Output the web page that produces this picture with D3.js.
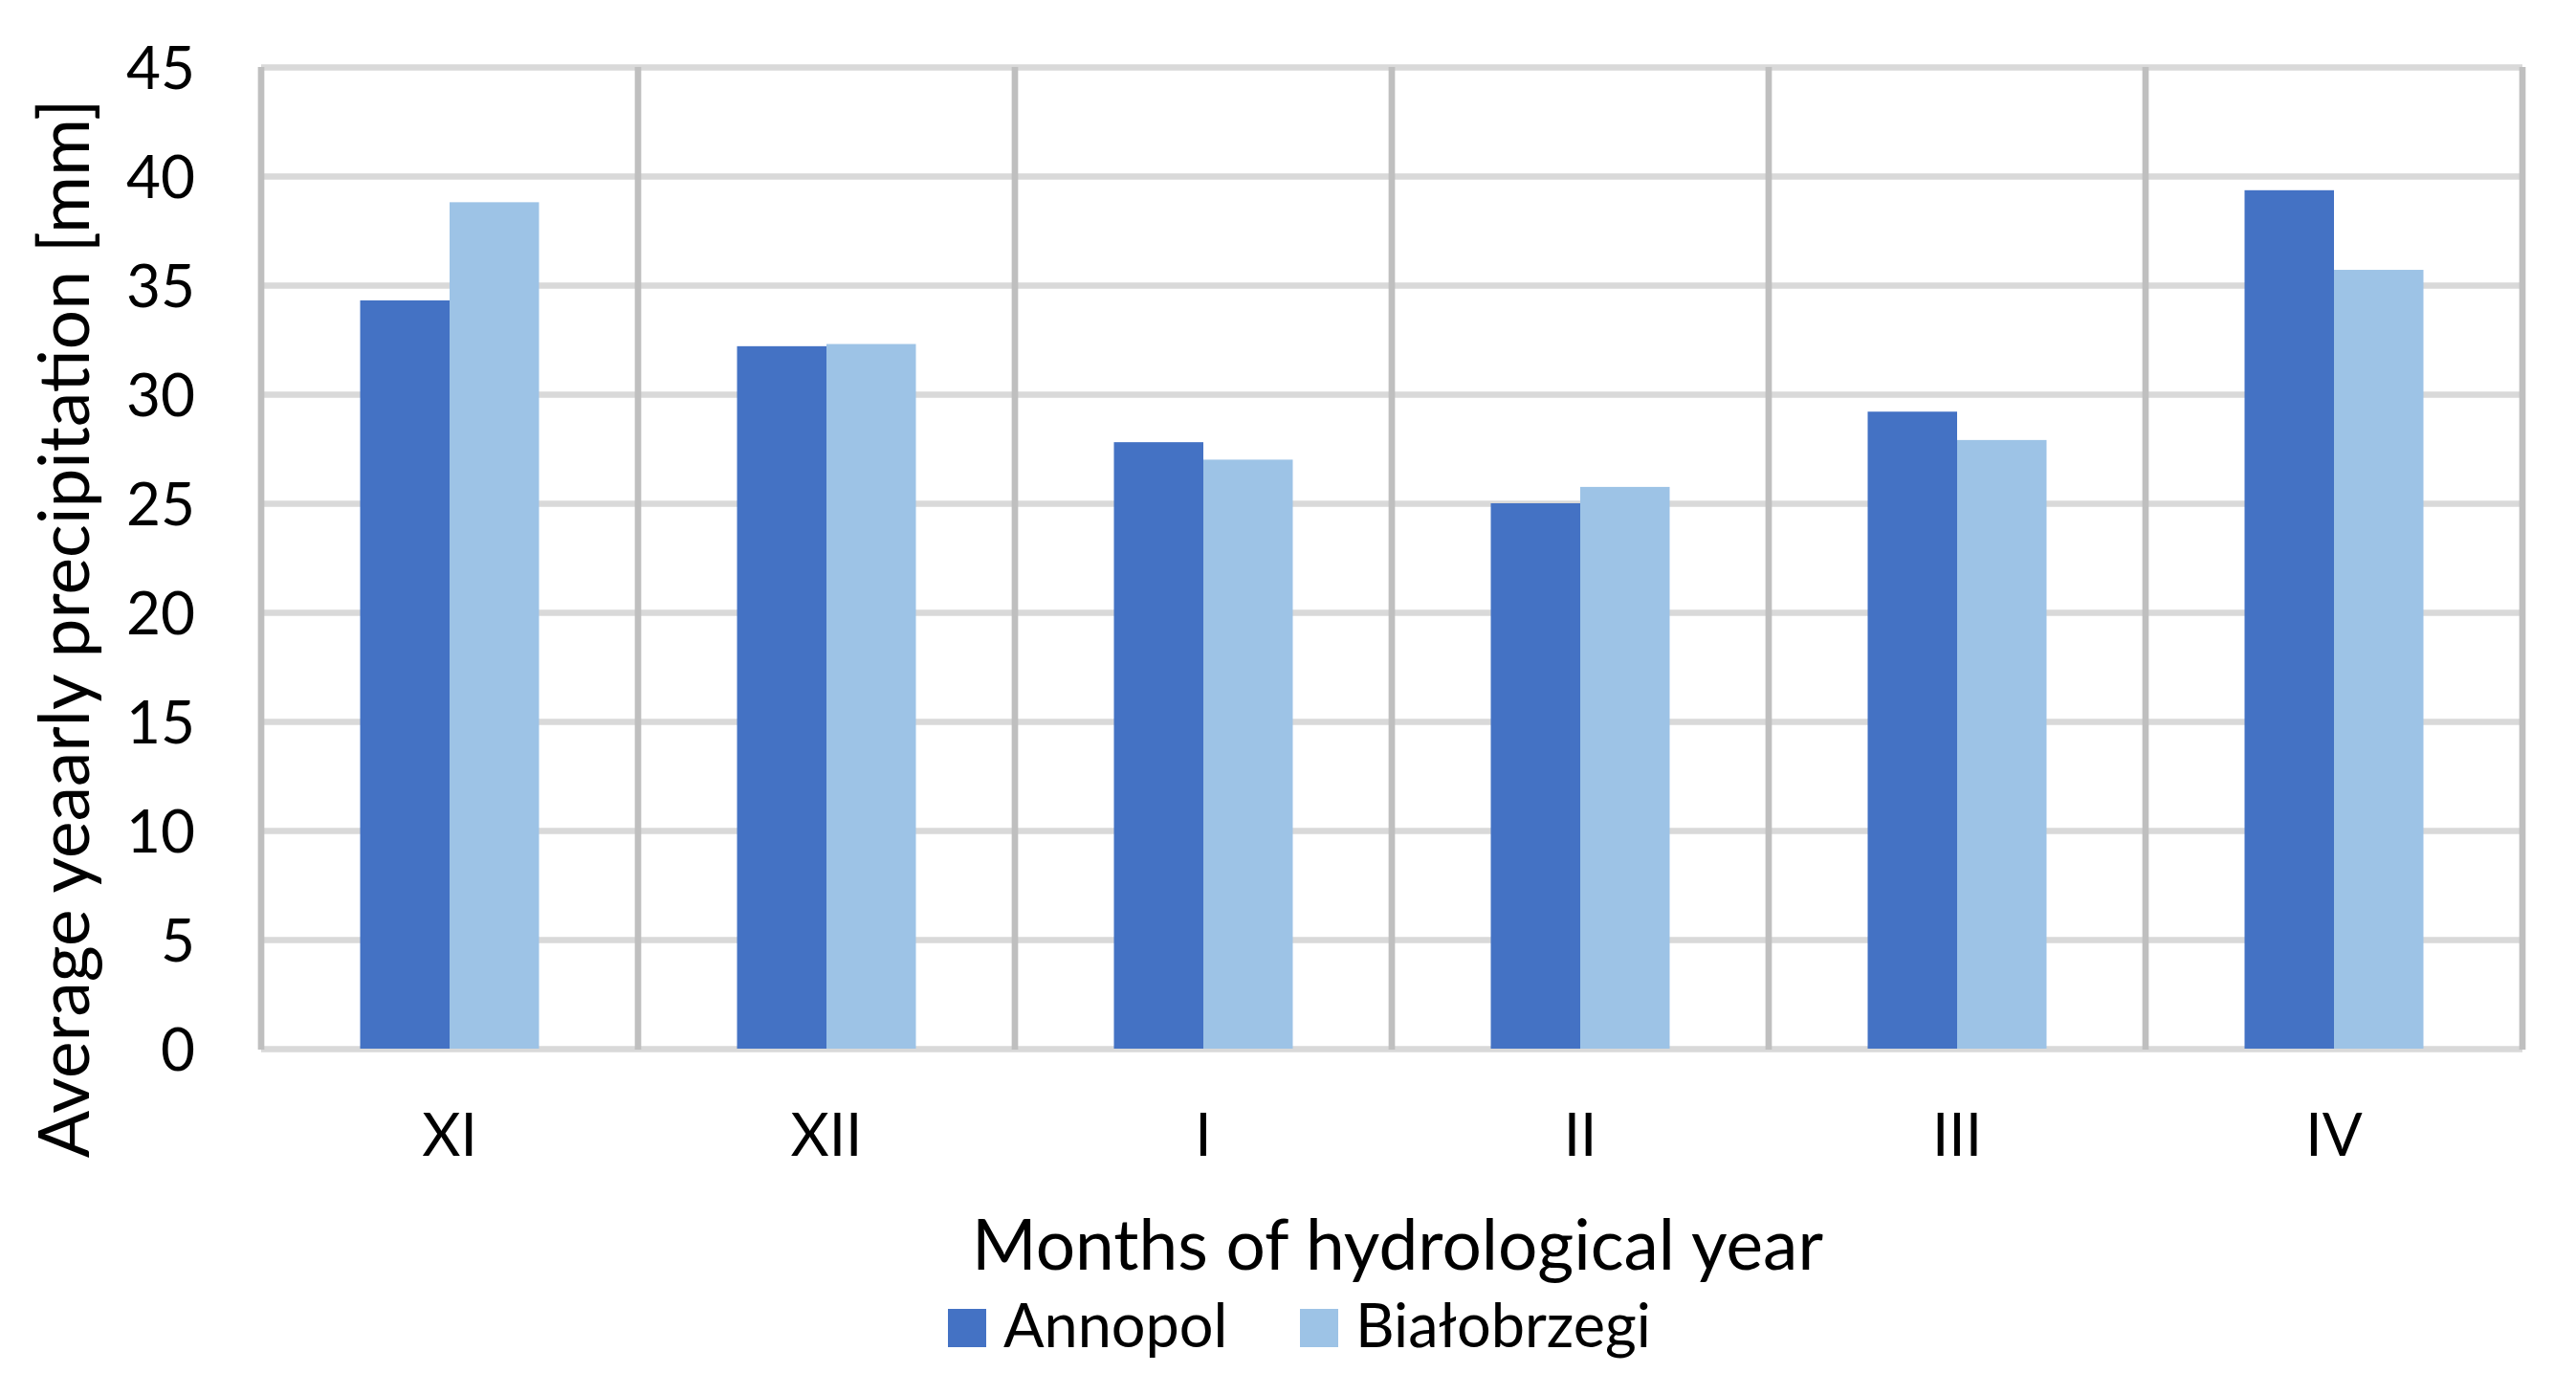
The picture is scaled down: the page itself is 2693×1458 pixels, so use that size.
<!DOCTYPE html>
<html>
<head>
<meta charset="UTF-8">
<title>precipitation_bar_chart</title>
<style type="text/css">
	body { margin: 0; background: #fff; }
	text { font-family: Lato, "Open Sans", sans-serif; fill: #000; }
	.axis path { display: none; }
	.y.axis line { stroke: #d9d9d9; stroke-width: 6.7; }
	.axis text { font-size: 62px; }
	.title { font-size: 73px; }
	.legend text { font-size: 63px; }
</style>
<script type="text/javascript" src="https://d3js.org/d3.v7.min.js"></script>
</head>
<body>
<div id="div_main"></div>
<script type="text/javascript">

	// data
	var months = ["XI", "XII", "I", "II", "III", "IV"];
	var series = ["Annopol", "Białobrzegi"];
	var annopol = [34.3, 32.2, 27.8, 25.0, 29.2, 39.35];
	var bialobrzegi = [38.8, 32.3, 27.0, 25.75, 27.9, 35.7];
	var yTicks = [0, 5, 10, 15, 20, 25, 30, 35, 40, 45];
	var colors = ["#4472c4", "#9dc3e6"];

	var svg_w = 2693, svg_h = 1458;
	var plot_l = 273, plot_r = 2637, plot_t = 70, plot_b = 1096;

	var dataset = months.map(function (m, i) {
		return { name: m, values: [annopol[i], bialobrzegi[i]] };
	});

	var svg = d3.select("#div_main")
				.append("svg")
					.attr("width", svg_w)
					.attr("height", svg_h);

	// scales
	var scaleX = d3.scaleBand()
					.domain(months)
					.range([plot_l, plot_r])
					.padding(0);

	var scaleInner = d3.scaleBand()
					.domain(series)
					.range([0, scaleX.bandwidth()])
					.paddingInner(0)
					.paddingOuter(1.107);

	var scaleY = d3.scaleLinear()
					.domain([0, 45])
					.range([plot_b, plot_t]);

	// horizontal gridlines + y labels
	var axisY = d3.axisLeft(scaleY)
					.tickValues(yTicks)
					.tickSize(-(plot_r - plot_l))
					.tickPadding(69);

	svg.append("g")
			.attr("class", "y axis")
			.attr("transform", "translate(" + plot_l + ",0)")
			.call(axisY)
			.call(function (g) { g.selectAll("text").attr("dy", "0.36em"); });

	// vertical dividers between months
	var edges = months.map(function (m) { return scaleX(m); }).concat([plot_r]);
	svg.append("g")
			.selectAll("line")
			.data(edges)
			.enter()
			.append("line")
				.attr("x1", function (d) { return d; })
				.attr("x2", function (d) { return d; })
				.attr("y1", scaleY(45))
				.attr("y2", scaleY(0) + 1)
				.attr("stroke", "#bfbfbf")
				.attr("stroke-width", 6.7);

	// bars
	var groups = svg.selectAll("g.month")
			.data(dataset)
			.enter()
			.append("g")
				.attr("class", "month")
				.attr("transform", function (d) { return "translate(" + scaleX(d.name) + ",0)"; });

	groups.selectAll("rect")
			.data(function (d) { return d.values; })
			.enter()
			.append("rect")
				.attr("x", function (d, i) { return scaleInner(series[i]); })
				.attr("y", function (d) { return scaleY(d); })
				.attr("width", scaleInner.bandwidth())
				.attr("height", function (d) { return scaleY(0) - scaleY(d); })
				.attr("fill", function (d, i) { return colors[i]; });

	// x labels
	var axisX = d3.axisBottom(scaleX)
					.tickSize(0);

	svg.append("g")
			.attr("class", "x axis")
			.attr("transform", "translate(0," + plot_b + ")")
			.call(axisX)
			.call(function (g) { g.selectAll("text").attr("y", 112).attr("dy", 0); });

	// axis titles
	svg.append("text")
			.attr("class", "title")
			.attr("text-anchor", "middle")
			.attr("transform", "translate(93," + 657 + ") rotate(-90)")
			.text("Average yeaarly precipitation [mm]");

	svg.append("text")
			.attr("class", "title")
			.attr("text-anchor", "middle")
			.attr("x", (plot_l + plot_r) / 2 + 6)
			.attr("y", 1327)
			.text("Months of hydrological year");

	// legend
	var legendX = [991, 1359];
	var legend = svg.append("g")
			.attr("class", "legend")
			.selectAll("g")
			.data(series)
			.enter()
			.append("g")
				.attr("transform", function (d, i) { return "translate(" + legendX[i] + ",1368)"; });

	legend.append("rect")
			.attr("width", 40)
			.attr("height", 40)
			.attr("fill", function (d, i) { return colors[i]; });

	legend.append("text")
			.attr("x", 58)
			.attr("y", 40)
			.text(function (d) { return d; });

</script>
</body>
</html>
